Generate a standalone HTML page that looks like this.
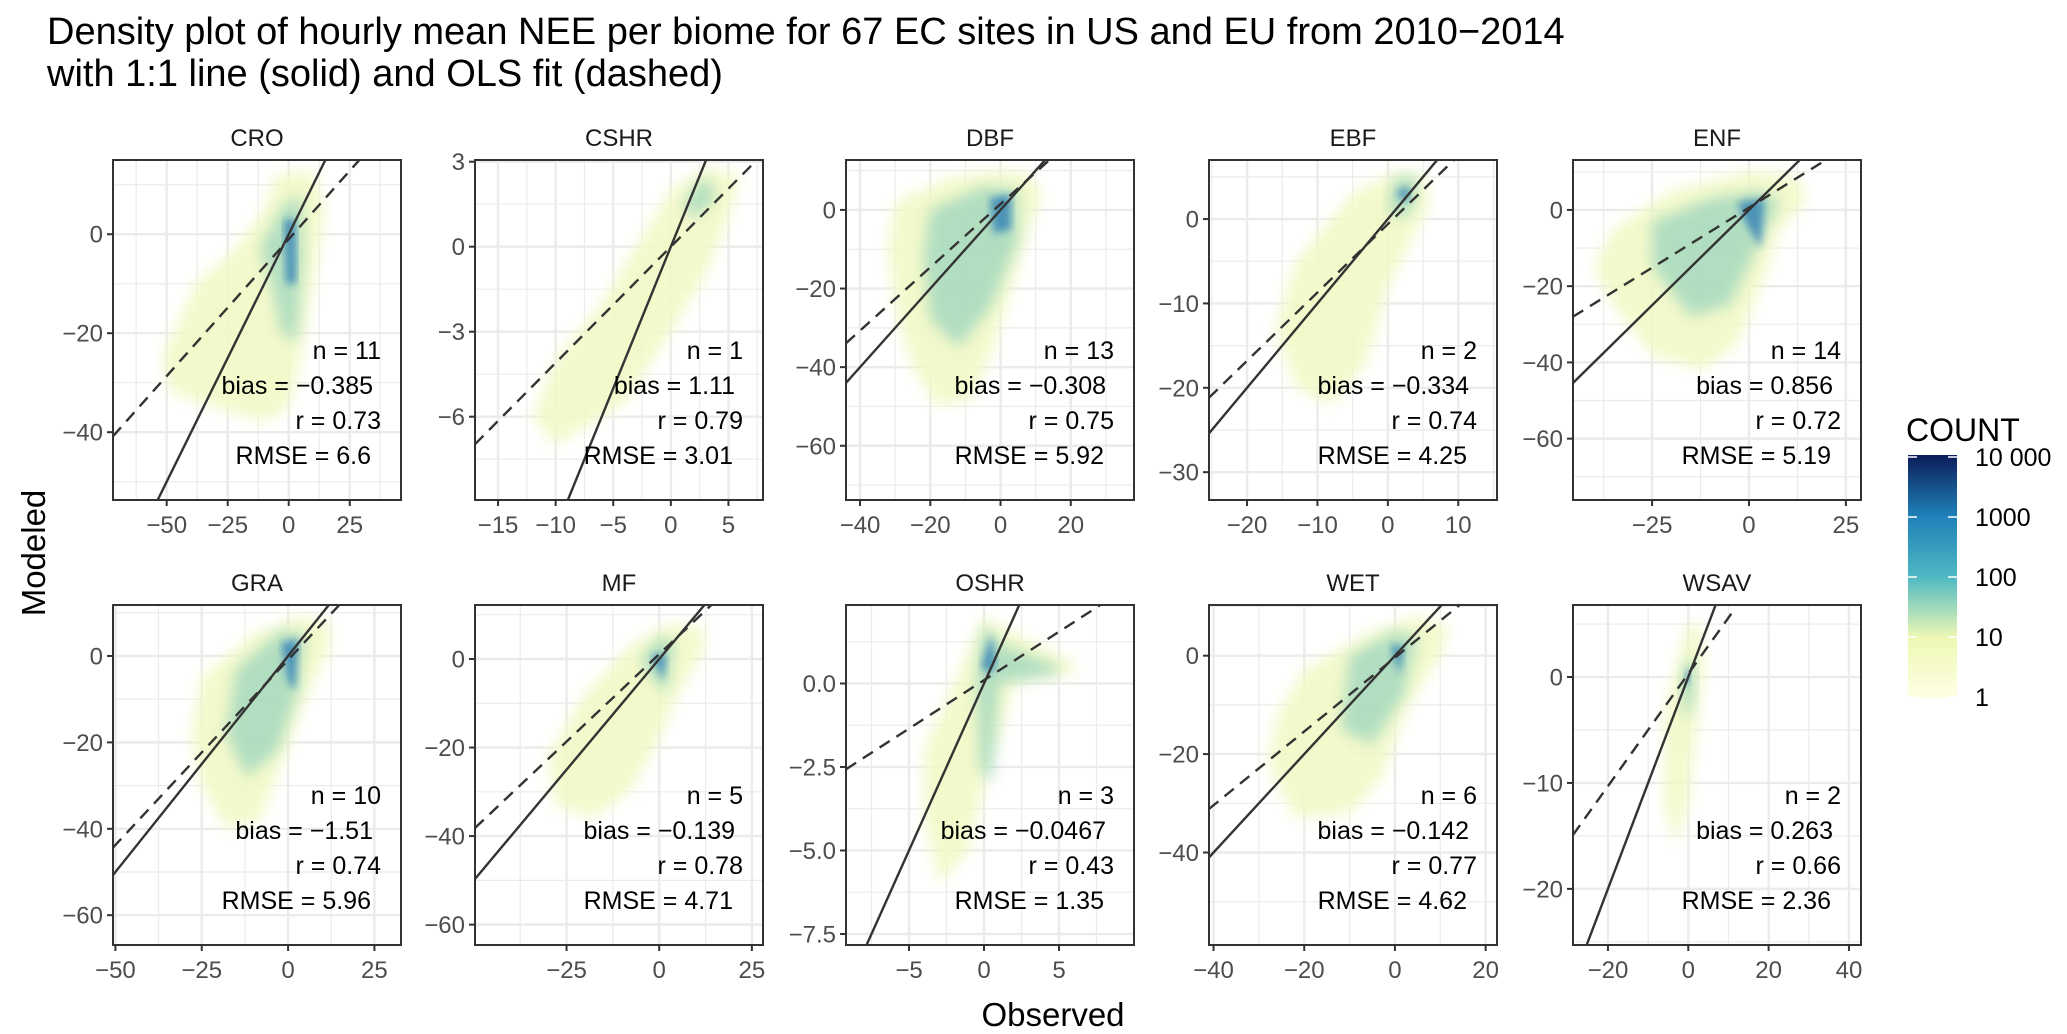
<!DOCTYPE html>
<html>
<head>
<meta charset="utf-8">
<style>
  html,body{margin:0;padding:0;background:#fff;}
  svg{display:block;font-family:"Liberation Sans",Arial,sans-serif;}
</style>
</head>
<body>
<svg id="chart" width="2067" height="1034" viewBox="0 0 2067 1034" xmlns="http://www.w3.org/2000/svg">
  <defs>
    <filter id="soft" x="-20%" y="-20%" width="140%" height="140%"><feGaussianBlur stdDeviation="7"/></filter>
    <filter id="soft2" x="-20%" y="-20%" width="140%" height="140%"><feGaussianBlur stdDeviation="4"/></filter>
    <linearGradient id="legGrad" x1="0" y1="1" x2="0" y2="0">
      <stop offset="0" stop-color="#ffffe5"/>
      <stop offset="0.25" stop-color="#eef8b4"/>
      <stop offset="0.5" stop-color="#4db8c2"/>
      <stop offset="0.75" stop-color="#1f80b8"/>
      <stop offset="1" stop-color="#0c1d5a"/>
    </linearGradient>
  </defs>
  <text x="47" y="44" font-size="38" fill="#000">Density plot of hourly mean NEE per biome for 67 EC sites in US and EU from 2010−2014</text>
  <text x="47" y="86" font-size="38" fill="#000">with 1:1 line (solid) and OLS fit (dashed)</text>
  <text x="1053" y="1026" font-size="33" text-anchor="middle" fill="#000">Observed</text>
  <text x="0" y="0" font-size="33" text-anchor="middle" fill="#000" transform="translate(45,553) rotate(-90)">Modeled</text>
  <g id="panels"></g>
  <g>
    <text x="1906" y="441" font-size="32" fill="#000">COUNT</text>
    <rect x="1908" y="455" width="49" height="243" fill="url(#legGrad)"/>
    <g id="legendTicks"></g>
  </g>
</svg>
<script>
const SVGNS = "http://www.w3.org/2000/svg";
// ---- data ----
const biomes = ["CRO","CSHR","DBF","EBF","ENF","GRA","MF","OSHR","WET","WSAV"];
const xDomains = [[-72,46],[-17,8],[-44,38],[-25.4,15.5],[-45.4,28.9],[-50.7,32.7],[-49.7,28],[-9.2,10],[-41,22.5],[-28.7,43]];
const yDomains = [[-53.7,15],[-8.94,3.06],[-73.8,12.7],[-33.3,7],[-76.1,13.1],[-66.9,11.8],[-64.6,12.2],[-7.83,2.35],[-58.8,10.3],[-25.3,6.8]];
const xTicks = [[-50,-25,0,25],[-15,-10,-5,0,5],[-40,-20,0,20],[-20,-10,0,10],[-25,0,25],[-50,-25,0,25],[-25,0,25],[-5,0,5],[-40,-20,0,20],[-20,0,20,40]];
const yTicks = [[-40,-20,0],[-6,-3,0,3],[-60,-40,-20,0],[-30,-20,-10,0],[-60,-40,-20,0],[-60,-40,-20,0],[-60,-40,-20,0],[-7.5,-5,-2.5,0],[-40,-20,0],[-20,-10,0]];
const yTickLabels = [["−40","−20","0"],["−6","−3","0","3"],["−60","−40","−20","0"],["−30","−20","−10","0"],["−60","−40","−20","0"],["−60","−40","−20","0"],["−60","−40","−20","0"],["−7.5","−5.0","−2.5","0.0"],["−40","−20","0"],["−20","−10","0"]];
const xTickLabels = [["−50","−25","0","25"],["−15","−10","−5","0","5"],["−40","−20","0","20"],["−20","−10","0","10"],["−25","0","25"],["−50","−25","0","25"],["−25","0","25"],["−5","0","5"],["−40","−20","0","20"],["−20","0","20","40"]];
const olsSlopes = [0.553,0.41,0.805,0.81,0.63,0.857,0.79,0.29,0.75,0.53];
const olsIntercepts = [-1.0,0.0,1.5,-0.6,0.6,-0.9,1.1,0.1,-0.4,0.3];
const olsXEnd = [46,8,38,15.5,28.9,32.7,28,10,22.5,10.8];
const nSites = ["11","1","13","2","14","10","5","3","6","2"];
const biasVals = ["−0.385","1.11","−0.308","−0.334","0.856","−1.51","−0.139","−0.0467","−0.142","0.263"];
const rVals = ["0.73","0.79","0.75","0.74","0.72","0.74","0.78","0.43","0.77","0.66"];
const rmseVals = ["6.6","3.01","5.92","4.25","5.19","5.96","4.71","1.35","4.62","2.36"];
const cloudOuter = [
 [[-5,12],[10,13],[15,5],[10,-10],[5,-25],[0,-35],[-10,-38],[-30,-35],[-48,-32],[-52,-25],[-38,-10],[-22,-3],[-10,5]],
 [[-12,-6],[-10,-7],[-4,-5.5],[0,-3],[3,-1],[5,1],[6,2.5],[3,2.8],[0,2],[-3,0],[-6,-2],[-10,-4]],
 [[-30,2],[-15,8],[0,10],[8,9],[12,4],[8,-5],[3,-20],[-2,-35],[-8,-48],[-18,-50],[-25,-40],[-30,-25],[-32,-10]],
 [[-13,-5],[-5,3],[1,5.5],[5,5.5],[6,2],[3,-3],[0,-8],[-3,-17],[-8,-22],[-13,-20],[-16,-13]],
 [[-35,-5],[-20,5],[0,10],[12,9],[15,3],[8,-5],[3,-20],[-3,-35],[-12,-42],[-25,-38],[-35,-25],[-40,-15]],
 [[-25,-5],[-10,5],[3,9],[12,8],[12,2],[5,-10],[-2,-25],[-8,-38],[-18,-40],[-25,-30],[-28,-18]],
 [[-20,-8],[-8,3],[3,8],[12,7],[12,2],[5,-8],[0,-18],[-8,-30],[-18,-36],[-28,-33],[-30,-22]],
 [[-3,-1],[-1,1],[0,2],[2,1.5],[6,0.6],[6,0.3],[2,0],[1,-1.5],[0,-3],[-1,-5],[-3,-6],[-4,-4],[-4,-2]],
 [[-20,-3],[-5,5],[5,8],[12,6],[10,0],[3,-10],[-3,-25],[-10,-32],[-22,-33],[-28,-22],[-26,-12]],
 [[-6,-4],[-3,1],[0,5],[3,5],[4,1],[2,-5],[0,-12],[-3,-16],[-6,-12]]
];
const cloudMid = [
 [[-2,6],[5,8],[6,-5],[3,-22],[-3,-20],[-8,-8],[-12,-3]],
 [[1,1.5],[3,2.5],[4,1.8],[2,1]],
 [[-20,0],[-5,6],[5,5],[5,-8],[-3,-25],[-12,-35],[-20,-28],[-22,-12]],
 [[0,1],[1,5],[4,5],[4,2],[2,0]],
 [[-25,-3],[-10,3],[3,5],[8,2],[2,-10],[-5,-25],[-15,-28],[-25,-15]],
 [[-15,-3],[-2,6],[5,5],[3,-8],[-3,-22],[-12,-28],[-18,-18]],
 [[-5,0],[0,5],[4,4],[2,-8],[-3,-3]],
 [[-0.5,0.3],[0,1.8],[1,1.2],[5,0.5],[5,0.3],[1,0],[0.5,-3],[-0.3,-2.5]],
 [[-10,0],[0,5],[5,4],[2,-8],[-5,-18],[-12,-15]],
 [[-2,-1],[0,2],[2,1],[1,-3],[-1,-4]]
];
const cloudCore = [
 [[-2,3],[3,3],[3,-10],[-1,-10]],
 [],
 [[-3,3],[3,4],[3,-5],[-2,-6]],
 [[1,3],[3,4],[3,2]],
 [[-3,2],[4,3],[3,-10],[-1,-3]],
 [[-2,3],[3,4],[2,-8],[0,-6]],
 [[-2,1],[2,1],[1,-5]],
 [[-0.2,0.5],[0.5,1.5],[0.8,0.6],[0.4,0.3]],
 [[-1,2],[2,2],[1,-4]],
 [[-1,0],[0.5,1],[0.5,-1]]
];
const legendValues = ["10 000","1000","100","10","1"];
// ---- layout (not data) ----
const colLeft = [113,475,846,1209,1573];
const rowTop = [160,605];
const panelW = 288, panelH = 340;

function mk(tag, attrs, parent){ const e=document.createElementNS(SVGNS,tag); for(const k in attrs) e.setAttribute(k,attrs[k]); if(parent) parent.appendChild(e); return e; }

const root = document.getElementById('panels');
biomes.forEach((b,i)=>{
  const L = colLeft[i%5], T = rowTop[Math.floor(i/5)], R=L+panelW, B=T+panelH;
  const [x0,x1]=xDomains[i], [y0,y1]=yDomains[i];
  const sx = v => L + (v-x0)/(x1-x0)*panelW;
  const sy = v => B - (v-y0)/(y1-y0)*panelH;
  const g = mk('g',{},root);
  
  
  const cid='clip'+i;
  const cp = mk('clipPath',{id:cid},g); mk('rect',{x:L,y:T,width:panelW,height:panelH},cp);
  const st = mk('text',{x:L+panelW/2,y:T-14,'font-size':24,'text-anchor':'middle',fill:'#1a1a1a'},g);
  
  
  st.textContent=b;
  const grid = mk('g',{},g);
  
  
  const xt=xTicks[i], yt=yTicks[i];
  const xs=xt[1]-xt[0], ys=yt[1]-yt[0];
  for(let v=xt[0]-xs; v<=xt[xt.length-1]+xs; v+=xs/2){
    if(v<=x0||v>=x1) continue;
    const major = xt.some(t=>Math.abs(t-v)<1e-9);
    mk('line',{x1:sx(v),x2:sx(v),y1:T,y2:B,stroke:'#ebebeb','stroke-width':major?2.4:1.2},grid);
  }
  for(let v=yt[0]-ys; v<=yt[yt.length-1]+ys; v+=ys/2){
    if(v<=y0||v>=y1) continue;
    const major = yt.some(t=>Math.abs(t-v)<1e-9);
    mk('line',{y1:sy(v),y2:sy(v),x1:L,x2:R,stroke:'#ebebeb','stroke-width':major?2.4:1.2},grid);
  }
  const dg = mk('g',{'clip-path':'url(#'+cid+')'},g);
  
  
  const pts = arr => arr.map(p=>sx(p[0]).toFixed(1)+','+sy(p[1]).toFixed(1)).join(' ');
  const o = mk('polygon',{points:pts(cloudOuter[i]),fill:'#f2f9c6',opacity:0.9,filter:'url(#soft)'},dg);
  
  
  if(cloudMid[i].length){
    const m = mk('polygon',{points:pts(cloudMid[i]),fill:'#86ccb9',opacity:0.6,filter:'url(#soft)'},dg);
    
    
  }
  if(cloudCore[i].length){
    const c = mk('polygon',{points:pts(cloudCore[i]),fill:'#2a7ab5',opacity:0.75,filter:'url(#soft2)'},dg);
    
    
  }
  const lg = mk('g',{'clip-path':'url(#'+cid+')'},g);
  const one = mk('line',{x1:sx(x0),y1:sy(x0),x2:sx(x1),y2:sy(x1),stroke:'#333','stroke-width':2.4},lg);
  
  
  const a=olsIntercepts[i], s=olsSlopes[i], xe=olsXEnd[i];
  const ols = mk('line',{x1:sx(x0),y1:sy(a+s*x0),x2:sx(xe),y2:sy(a+s*xe),stroke:'#333','stroke-width':2.4,'stroke-dasharray':'12,8'},lg);
  
  
  const lines=[['n = '+nSites[i],20,190],['bias = '+biasVals[i],28,225],['r = '+rVals[i],20,260],['RMSE = '+rmseVals[i],30,295]];
  const names=['stat-n','stat-bias','stat-r','stat-rmse'];
  lines.forEach((l,k)=>{
    const t = mk('text',{x:R-l[1],y:T+l[2]+9,'font-size':25,'text-anchor':'end',fill:'#000'},g);
    
    
    t.textContent=l[0];
  });
  const br = mk('rect',{x:L,y:T,width:panelW,height:panelH,fill:'none',stroke:'#333','stroke-width':2},g);
  
  
  xt.forEach((v,k)=>{
    mk('line',{x1:sx(v),x2:sx(v),y1:B,y2:B+6,stroke:'#333','stroke-width':2},g);
    const t=mk('text',{x:sx(v),y:B+33,'font-size':24,'text-anchor':'middle',fill:'#4d4d4d'},g);
    
    
    t.textContent=xTickLabels[i][k];
  });
  yt.forEach((v,k)=>{
    mk('line',{x1:L-6,x2:L,y1:sy(v),y2:sy(v),stroke:'#333','stroke-width':2},g);
    const t=mk('text',{x:L-10,y:sy(v)+8.5,'font-size':24,'text-anchor':'end',fill:'#4d4d4d'},g);
    
    
    t.textContent=yTickLabels[i][k];
  });
});
const lt = document.getElementById('legendTicks');
legendValues.forEach((v,k)=>{
  const y = 457 + k*60;
  mk('line',{x1:1908,x2:1917,y1:y,y2:y,stroke:'#fff','stroke-width':1.5},lt);
  mk('line',{x1:1948,x2:1957,y1:y,y2:y,stroke:'#fff','stroke-width':1.5},lt);
  const t = mk('text',{x:1975,y:y+9,'font-size':25,fill:'#000'},lt);
  
  
  t.textContent=v;
});
</script>
</body>
</html>
